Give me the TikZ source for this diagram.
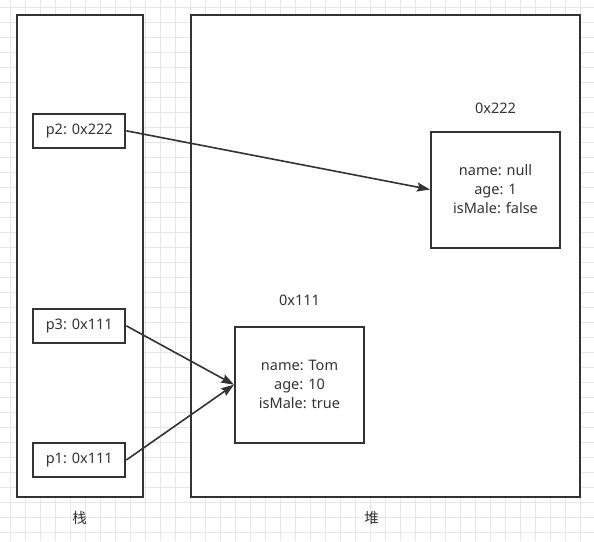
\documentclass[tikz,border=0pt]{standalone}
\usepackage{fontspec}
\setmainfont{Noto Sans}
\newfontfamily\cjk{Noto Sans CJK SC}
\usetikzlibrary{arrows.meta}
\definecolor{ink}{HTML}{333333}
\definecolor{gridc}{HTML}{E6E6E6}
\tikzset{
  gridline/.style={draw=gridc, line width=0.8pt},
  frame/.style={draw=ink, line width=2pt, fill=white, inner sep=0pt},
  ptr/.style={frame, minimum width=92pt, minimum height=34pt, text=ink, font=\fontsize{14.5}{19}\selectfont},
  obj/.style={frame, minimum width=129pt, minimum height=116pt, text=ink, align=center, font=\fontsize{14.5}{19}\selectfont},
  lbl/.style={text=ink, inner sep=0pt, font=\fontsize{14.5}{19}\selectfont},
  cjklbl/.style={text=ink, inner sep=0pt, font=\cjk\fontsize{14.5}{19}\selectfont},
  link/.style={draw=ink, line width=1.6pt, -{Stealth[length=13pt,width=9pt,inset=2pt]}}
}
\begin{document}
\begin{tikzpicture}[x=1pt,y=-1pt]
\useasboundingbox (0,0) rectangle (594,541);
\fill[white] (0,0) rectangle (594,541);
\foreach \k in {0,...,38} \draw[gridline] (10.7+15*\k,0) -- (10.7+15*\k,541);
\foreach \k in {0,...,35} \draw[gridline] (0,7+15*\k) -- (594,7+15*\k);
% containers
\node[frame, minimum width=126.5pt, minimum height=481.7pt] (stack) at (80,255.8) {};
\node[frame, minimum width=389.3pt, minimum height=481.7pt] (heap) at (385.35,255.8) {};
% pointers
\node[ptr] (p2) at (79.3,130.8) {p2: 0x222};
\node[ptr] (p3) at (79.3,325.8) {p3: 0x111};
\node[ptr] (p1) at (79.3,460) {p1: 0x111};
% objects
\node[obj] (o111) at (299.5,384.7) {name: Tom\\age: 10\\isMale: true};
\node[obj] (o222) at (495.5,189.5) {name: null\\age: 1\\isMale: false};
\node[lbl] (a222) at (495.5,108) {0x222};
\node[lbl] (a111) at (299.5,300) {0x111};
% captions
\node[cjklbl] (cstack) at (79.5,518) {栈};
\node[cjklbl] (cheap) at (371.5,518) {堆};
% links
\draw[link] (p2.east) -- (o222.west);
\draw[link] (p3.east) -- (o111.west);
\draw[link] (p1.east) -- (o111.west);
\end{tikzpicture}
\end{document}
